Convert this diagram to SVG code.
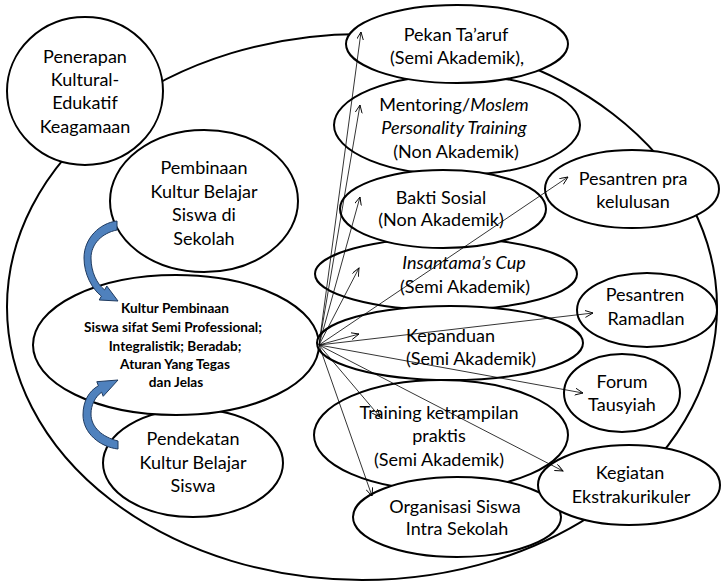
<svg xmlns="http://www.w3.org/2000/svg" width="721" height="582" viewBox="0 0 721 582">
<style>
.n{fill:#fff;stroke:#000;stroke-width:2}
.t{font-family:Lato,"Liberation Sans",sans-serif;font-size:18px;fill:#000;text-anchor:middle}
.b{font-family:Lato,"Liberation Sans",sans-serif;font-size:13.6px;font-weight:bold;fill:#000;text-anchor:middle}
.i{font-style:italic}
.c{stroke:#000;stroke-width:0.8;fill:none;marker-end:url(#ah)}
.ba{fill:#4f81bd;stroke:#1f3a5f;stroke-width:1}
</style>
<defs>
<marker id="ah" markerUnits="userSpaceOnUse" markerWidth="10" markerHeight="10" refX="8" refY="3.5" orient="auto">
<path d="M0,0 L8,3.5 L0,7" fill="none" stroke="#000" stroke-width="0.9"/>
</marker>
</defs>
<rect width="721" height="582" fill="#fff"/>
<ellipse id="outer" cx="362" cy="307" rx="355" ry="273" fill="none" stroke="#000" stroke-width="2"/>
<g id="penerapan"><ellipse class="n" cx="85" cy="91" rx="78" ry="74"/>
<text class="t" x="85" y="63">Penerapan</text><text class="t" x="85" y="86">Kultural-</text><text class="t" x="85" y="109">Edukatif</text><text class="t" x="85" y="133">Keagamaan</text></g>
<g id="pembinaan"><ellipse class="n" cx="204" cy="201" rx="94" ry="71"/>
<text class="t" x="204" y="174">Pembinaan</text><text class="t" x="204" y="198">Kultur Belajar</text><text class="t" x="204" y="221">Siswa di</text><text class="t" x="204" y="245">Sekolah</text></g>
<g id="pendekatan"><ellipse class="n" cx="193" cy="463" rx="90" ry="54"/>
<text class="t" x="193" y="445">Pendekatan</text><text class="t" x="193" y="469">Kultur Belajar</text><text class="t" x="193" y="492">Siswa</text></g>
<g id="kultur"><ellipse class="n" cx="176" cy="345" rx="143" ry="70"/>
<text class="b" x="175" y="313">Kultur Pembinaan</text><text class="b" x="173" y="332">Siswa sifat Semi Professional;</text><text class="b" x="175" y="351">Integralistik; Beradab;</text><text class="b" x="175" y="369">Aturan Yang Tegas</text><text class="b" x="176" y="387">dan Jelas</text></g>
<g id="mentoring"><ellipse class="n" cx="457" cy="125" rx="123" ry="50"/>
<text class="t" x="454" y="111">Mentoring/<tspan class="i">Moslem</tspan></text><text class="t i" x="454" y="134">Personality Training</text><text class="t" x="456" y="158">(Non Akademik)</text></g>
<g id="pekan"><ellipse class="n" cx="457" cy="44" rx="111" ry="39"/>
<text class="t" x="456" y="41">Pekan Ta’aruf</text><text class="t" x="457" y="64">(Semi Akademik),</text></g>
<g id="insantama"><ellipse class="n" cx="446" cy="274" rx="131" ry="36"/>
<text class="t i" x="464" y="269">Insantama’s Cup</text><text class="t" x="465" y="293">(Semi Akademik)</text></g>
<g id="bakti"><ellipse class="n" cx="443" cy="209" rx="103" ry="39"/>
<text class="t" x="441" y="204">Bakti Sosial</text><text class="t" x="441" y="226">(Non Akademik)</text></g>
<g id="training"><ellipse class="n" cx="441" cy="435" rx="127" ry="55"/>
<text class="t" x="439" y="419">Training ketrampilan</text><text class="t" x="439" y="442">praktis</text><text class="t" x="439" y="466">(Semi Akademik)</text></g>
<g id="kepanduan"><ellipse class="n" cx="450" cy="343" rx="133" ry="37"/>
<text class="t" x="406" y="342" style="text-anchor:start">Kepanduan</text><text class="t" x="406" y="365" style="text-anchor:start">(Semi Akademik)</text></g>
<g id="organisasi"><ellipse class="n" cx="457" cy="517" rx="104" ry="40"/>
<text class="t" x="455" y="513">Organisasi Siswa</text><text class="t" x="457" y="535">Intra Sekolah</text></g>
<g id="pesantrenpra"><ellipse class="n" cx="632" cy="189" rx="87" ry="39"/>
<text class="t" x="633" y="185">Pesantren pra</text><text class="t" x="633" y="208">kelulusan</text></g>
<g id="ramadlan"><ellipse class="n" cx="647" cy="310" rx="70" ry="37"/>
<text class="t" x="645" y="301">Pesantren</text><text class="t" x="646" y="325">Ramadlan</text></g>
<g id="forum"><ellipse class="n" cx="622" cy="393" rx="58" ry="39"/>
<text class="t" x="622" y="388">Forum</text><text class="t" x="622" y="411">Tausyiah</text></g>
<g id="kegiatan"><ellipse class="n" cx="629" cy="485" rx="91" ry="40"/>
<text class="t" x="630" y="479">Kegiatan</text><text class="t" x="631" y="503">Ekstrakurikuler</text></g>
<g id="connectors">
<line class="c" x1="319" y1="345" x2="361" y2="32"/>
<line class="c" x1="319" y1="345" x2="360" y2="105"/>
<line class="c" x1="319" y1="345" x2="360" y2="197"/>
<line class="c" x1="319" y1="345" x2="359" y2="268"/>
<line class="c" x1="319" y1="345" x2="568" y2="177"/>
<line class="c" x1="319" y1="345" x2="359" y2="334"/>
<line class="c" x1="319" y1="345" x2="593" y2="313"/>
<line class="c" x1="319" y1="345" x2="583" y2="393"/>
<line class="c" x1="319" y1="345" x2="380" y2="417"/>
<line class="c" x1="319" y1="345" x2="563" y2="471"/>
<line class="c" x1="319" y1="345" x2="372" y2="496"/>
<path class="ba" d="M117,221 C100,223 84,238 84,258 C84,274 92,289 101.4,296.1 L99.2,300 L118,301 L106.8,286 L104.6,289.9 C97,284 91,272 91,258 C91,244 102,233 117,230 Z"/>
<path class="ba" d="M118,449 C100,447 83,433 83,415 C83,401 89,391 98.4,385.8 L96.8,381.7 L118,380 L103.2,396.3 L101.6,392.2 C95,397 91,405 91,414 C91,427 102,437 118,441 Z"/>
</g>
</svg>
